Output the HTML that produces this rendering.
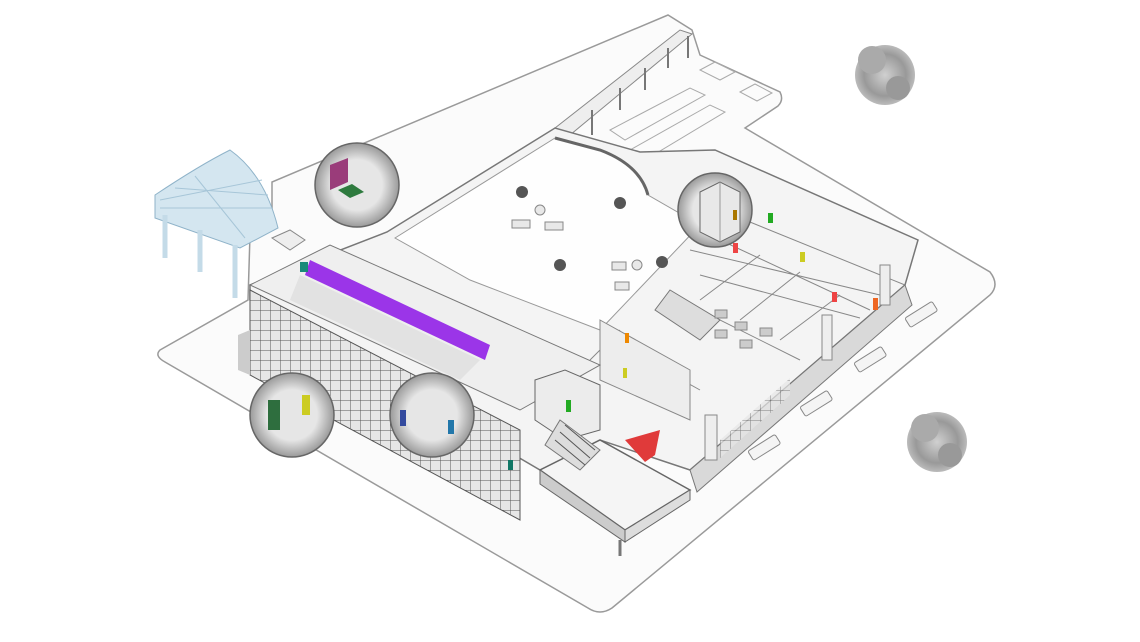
<!DOCTYPE html>
<html><head><meta charset="utf-8"><style>
html,body{margin:0;padding:0;background:#fff;width:1140px;height:642px;overflow:hidden}
svg{display:block}
</style></head><body>
<svg width="1140" height="642" viewBox="0 0 1140 642" xmlns="http://www.w3.org/2000/svg">
<defs>
<pattern id="grid" width="10" height="10" patternUnits="userSpaceOnUse">
<rect width="10" height="10" fill="#e6e6e6"/><path d="M0 0V10M0 0H10" stroke="#555" stroke-width="1"/></pattern>
<radialGradient id="tree"><stop offset="0" stop-color="#d0d0d0"/><stop offset="0.7" stop-color="#999"/><stop offset="1" stop-color="#bbb"/></radialGradient>
<radialGradient id="circ"><stop offset="0.6" stop-color="#e6e6e6"/><stop offset="1" stop-color="#9a9a9a"/></radialGradient>
</defs>
<!-- ground plate -->
<path d="M160,350 L248,300 L250,235 L272,225 L272,182 L668,15 L692,30 L700,55 L780,92 Q784,100 778,106 L745,128 L990,272 Q1000,285 990,295 L612,608 Q600,616 588,608 L165,362 Q154,356 160,350 Z" fill="#fbfbfb" stroke="#9a9a9a" stroke-width="1.5"/>
<!-- walkway roof -->
<path d="M555,128 L680,30 L692,34 L570,135 Z" fill="#eee" stroke="#888"/>
<g stroke="#777" stroke-width="2"><line x1="592" y1="110" x2="592" y2="135"/><line x1="620" y1="88" x2="620" y2="110"/><line x1="645" y1="68" x2="645" y2="90"/><line x1="668" y1="48" x2="668" y2="68"/><line x1="688" y1="36" x2="688" y2="58"/></g>
<!-- parking -->
<g stroke="#aaa" fill="none"><path d="M610,130 L690,88 L705,95 L625,140 Z M630,150 L710,105 L725,112 L645,160 Z M700,70 L715,62 L735,72 L720,80 Z M740,92 L755,84 L772,93 L757,101 Z"/></g>
<!-- pavilion -->
<path d="M155,195 Q200,165 230,150 Q265,175 278,228 L240,248 L155,218 Z" fill="#d4e6f0" stroke="#8fb3c9"/>
<g stroke="#a7c6d8"><line x1="160" y1="200" x2="262" y2="180"/><line x1="160" y1="208" x2="272" y2="208"/><line x1="195" y1="176" x2="245" y2="238"/><line x1="175" y1="188" x2="268" y2="195"/></g>
<g stroke="#c4dbe8" stroke-width="5"><line x1="165" y1="215" x2="165" y2="258"/><line x1="235" y1="245" x2="235" y2="298"/><line x1="200" y1="230" x2="200" y2="272"/></g>
<!-- small structure near pavilion -->
<path d="M272,238 L290,230 L305,240 L290,250 Z" fill="#eee" stroke="#888"/>
<!-- main building top -->
<path d="M250,285 L387,232 L555,128 L640,152 L715,150 L918,240 L905,285 L690,470 L600,440 L540,470 L250,300 Z" fill="#f4f4f4" stroke="#777" stroke-width="1.5"/>
<!-- courtyard -->
<path d="M395,238 L555,138 L600,150 Q640,165 648,195 L700,225 L600,330 L470,280 Z" fill="#fefefe" stroke="#999"/>
<path d="M555,138 L600,150 Q640,165 648,195" fill="none" stroke="#666" stroke-width="3"/>
<!-- east wing interior walls -->
<g stroke="#888" fill="none">
<path d="M690,250 L880,295 M700,275 L860,318 M680,300 L800,360 M720,240 L870,310 M760,255 L700,300 M800,272 L740,320 M840,295 L780,340 M610,340 L700,390 M620,330 L590,360 M745,220 L905,285"/>
</g>
<path d="M600,320 L690,370 L690,420 L600,380 Z" fill="#ededed" stroke="#888"/>
<path d="M670,290 L720,320 L700,340 L655,310 Z" fill="#ddd" stroke="#777"/>
<g fill="#ccc" stroke="#888"><rect x="715" y="310" width="12" height="8"/><rect x="735" y="322" width="12" height="8"/><rect x="715" y="330" width="12" height="8"/><rect x="740" y="340" width="12" height="8"/><rect x="760" y="328" width="12" height="8"/></g>
<!-- right facade -->
<path d="M690,470 L905,285 L912,305 L697,492 Z" fill="#d9d9d9" stroke="#777"/>
<path d="M720,440 L790,378 L790,395 L720,458 Z" fill="url(#grid)" opacity="0.7"/>
<g fill="#eee" stroke="#888"><rect x="822" y="315" width="10" height="45"/><rect x="705" y="415" width="12" height="45"/><rect x="880" y="265" width="10" height="40"/></g>
<!-- left block roof -->
<path d="M250,285 L330,245 L600,365 L520,410 Z" fill="#efefef" stroke="#777"/>
<path d="M300,275 L480,360 L460,380 L290,300 Z" fill="#ddd" opacity="0.7"/>
<!-- purple bar -->
<path d="M310,260 L490,345 L485,360 L305,275 Z" fill="#9b35e8"/>
<rect x="300" y="262" width="8" height="10" fill="#1a8a7a"/>
<!-- left facade -->
<path d="M250,290 L520,430 L520,520 L250,375 Z" fill="url(#grid)" stroke="#555"/>
<path d="M238,335 L250,330 L250,375 L238,370 Z" fill="#ccc"/>
<!-- terrace -->
<path d="M540,470 L600,440 L690,490 L625,530 Z" fill="#f5f5f5" stroke="#666" stroke-width="1.5"/>
<path d="M540,470 L625,530 L625,542 L540,484 Z" fill="#ccc" stroke="#666"/>
<path d="M625,530 L690,490 L690,500 L625,542 Z" fill="#ddd" stroke="#666"/>
<line x1="620" y1="540" x2="620" y2="556" stroke="#777" stroke-width="3"/>
<!-- central tower -->
<path d="M535,380 L565,370 L600,385 L600,430 L565,440 L535,420 Z" fill="#ececec" stroke="#666"/>
<path d="M560,420 L600,450 L580,470 L545,445 Z" fill="#ddd" stroke="#777"/>
<g stroke="#555"><line x1="565" y1="425" x2="595" y2="450"/><line x1="560" y1="432" x2="590" y2="458"/><line x1="555" y1="440" x2="585" y2="465"/></g>
<!-- red shape -->
<path d="M625,440 L660,430 L655,455 L645,462 Z" fill="#e03a3a"/>
<!-- doors -->
<rect x="733" y="243" width="5" height="10" fill="#e44"/><rect x="768" y="213" width="5" height="10" fill="#2a2"/>
<rect x="800" y="252" width="5" height="10" fill="#cc2"/><rect x="832" y="292" width="5" height="10" fill="#e44"/>
<rect x="873" y="298" width="5" height="12" fill="#e62"/><rect x="625" y="333" width="4" height="10" fill="#e80"/>
<rect x="623" y="368" width="4" height="10" fill="#cc2"/><rect x="566" y="400" width="5" height="12" fill="#2a2"/>
<rect x="508" y="460" width="5" height="10" fill="#176"/>
<!-- courtyard trees & furniture -->
<g fill="#555"><circle cx="522" cy="192" r="6"/><circle cx="620" cy="203" r="6"/><circle cx="560" cy="265" r="6"/><circle cx="662" cy="262" r="6"/></g>
<g fill="#e8e8e8" stroke="#888"><rect x="512" y="220" width="18" height="8"/><rect x="545" y="222" width="18" height="8"/><rect x="612" y="262" width="14" height="8"/><rect x="615" y="282" width="14" height="8"/><circle cx="540" cy="210" r="5"/><circle cx="637" cy="265" r="5"/></g>
<!-- zoom circles -->
<g stroke="#666" stroke-width="1.5">
<circle cx="357" cy="185" r="42" fill="url(#circ)"/>
<circle cx="715" cy="210" r="37" fill="url(#circ)"/>
<circle cx="292" cy="415" r="42" fill="url(#circ)"/>
<circle cx="432" cy="415" r="42" fill="url(#circ)"/>
</g>
<path d="M330,165 L348,158 L348,182 L330,190 Z" fill="#9a3c7a"/><path d="M338,190 L352,184 L364,192 L350,198 Z" fill="#2e7a3e"/>
<path d="M700,192 L720,182 L740,192 L740,232 L720,242 L700,232 Z" fill="#e8e8e8" stroke="#666"/>
<path d="M720,182 L720,242" stroke="#999"/>
<rect x="733" y="210" width="4" height="10" fill="#a70"/>
<rect x="268" y="400" width="12" height="30" fill="#2e6e3e"/><rect x="302" y="395" width="8" height="20" fill="#cc2"/>
<rect x="400" y="410" width="6" height="16" fill="#334a9e"/><rect x="448" y="420" width="6" height="14" fill="#27a"/>
<!-- buses -->
<g fill="#f4f4f4" stroke="#888">
<rect x="905" y="309" width="32" height="11" rx="2" transform="rotate(-32 921 314)"/>
<rect x="854" y="354" width="32" height="11" rx="2" transform="rotate(-32 870 359)"/>
<rect x="800" y="398" width="32" height="11" rx="2" transform="rotate(-32 816 403)"/>
<rect x="748" y="442" width="32" height="11" rx="2" transform="rotate(-32 764 447)"/>
</g>
<!-- trees -->
<g fill="url(#tree)">
<circle cx="885" cy="75" r="30"/><circle cx="872" cy="60" r="14" fill="#aaa"/><circle cx="898" cy="88" r="12" fill="#999"/>
<circle cx="937" cy="442" r="30"/><circle cx="925" cy="428" r="14" fill="#aaa"/><circle cx="950" cy="455" r="12" fill="#999"/>
</g>
</svg>
</body></html>
